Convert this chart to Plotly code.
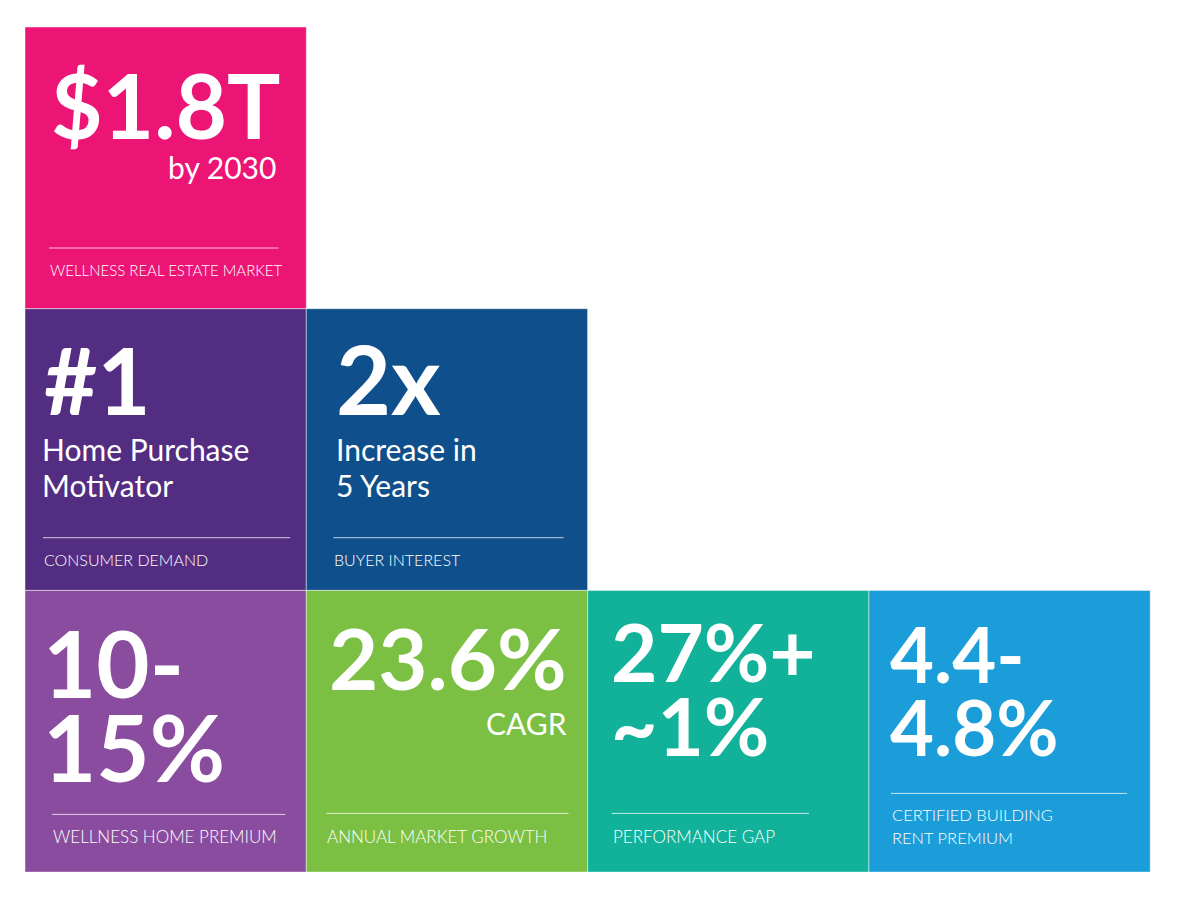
import plotly.graph_objects as go

# tiles of the infographic
tile_row = [0, 1, 1, 2, 2, 2, 2]
tile_col = [0, 0, 1, 0, 1, 2, 3]
tile_color = ["#EC1576", "#532D82", "#0F4F8B", "#8A4C9E", "#7BBF43", "#12B29A", "#1B9DD9"]
headlines = ["$1.8T", "#1", "2x", "10-\n15%", "23.6%", "27%+\n~1%", "4.4-\n4.8%"]
sublines = ["by 2030", "Home Purchase\nMotivator", "Increase in\n5 Years", "", "CAGR", "", ""]
labels = ["WELLNESS REAL ESTATE MARKET", "CONSUMER DEMAND", "BUYER INTEREST",
          "WELLNESS HOME PREMIUM", "ANNUAL MARKET GROWTH", "PERFORMANCE GAP",
          "CERTIFIED BUILDING\nRENT PREMIUM"]

# layout (pixels inside a tile); page body has an 8px margin
TW, TH = 281.3, 281.7
X0, Y0 = 17, 19
style = [
    dict(hx=24, hy=77, hs=89, gap=0, sx=-28, sy=140, sa="right", lx=(24, -28), ly=221, ty=243, ts=15),
    dict(hx=17, hy=71, hs=92, gap=0, sx=15, sy=140, sa="left", lx=(18, -16), ly=229, ty=251, ts=16),
    dict(hx=28, hy=69, hs=95, gap=0, sx=28, sy=140, sa="left", lx=(27, -24), ly=229, ty=251, ts=16),
    dict(hx=16, hy=72, hs=92, gap=84, sx=0, sy=0, sa="left", lx=(27, -21), ly=224, ty=246, ts=17),
    dict(hx=21, hy=67, hs=85, gap=0, sx=-19, sy=133, sa="right", lx=(20, -19), ly=223, ty=246, ts=17),
    dict(hx=21, hy=61, hs=80, gap=74, sx=0, sy=0, sa="left", lx=(24, -60), ly=223, ty=246, ts=17),
    dict(hx=19, hy=63, hs=76, gap=73, sx=0, sy=0, sa="left", lx=(22, -23), ly=203, ty=225, ts=16.5),
]

FONT = "Lato, 'Open Sans', sans-serif"

fig = go.Figure()
shapes = []
annotations = []


def px(col, dx):
    return col + dx / TW


def py(row, dy):
    return row + dy / TH


for i in range(len(tile_row)):
    r, c, s = tile_row[i], tile_col[i], style[i]
    shapes.append(dict(type="rect", xref="x", yref="y", x0=c, x1=c + 1, y0=r, y1=r + 1,
                       fillcolor=tile_color[i], line=dict(color="rgba(255,255,255,0.45)", width=1),
                       layer="below"))
    # divider line
    shapes.append(dict(type="line", xref="x", yref="y",
                       x0=px(c, s["lx"][0]), x1=px(c + 1, s["lx"][1]),
                       y0=py(r, s["ly"]), y1=py(r, s["ly"]),
                       line=dict(color="rgba(255,255,255,0.75)", width=1)))
    for k, line in enumerate(headlines[i].split("\n")):
        annotations.append(dict(x=px(c, s["hx"]), y=py(r, s["hy"] + k * s["gap"]),
                                xref="x", yref="y", text=line, showarrow=False,
                                xanchor="left", yanchor="middle",
                                font=dict(family=FONT, size=s["hs"], color="white", weight=700)))
    if sublines[i]:
        for k, line in enumerate(sublines[i].split("\n")):
            sx = px(c + 1, s["sx"]) if s["sa"] == "right" else px(c, s["sx"])
            annotations.append(dict(x=sx, y=py(r, s["sy"] + k * 36),
                                    xref="x", yref="y", text=line, showarrow=False,
                                    xanchor=s["sa"], yanchor="middle",
                                    font=dict(family=FONT, size=30, color="white")))
    for k, line in enumerate(labels[i].split("\n")):
        annotations.append(dict(x=px(c, s["lx"][0] - 1), y=py(r, s["ty"] + k * 23),
                                xref="x", yref="y", text=line, showarrow=False,
                                xanchor="left", yanchor="middle",
                                font=dict(family=FONT, size=s["ts"], color="white", weight=300)))

fig.update_layout(
    width=1181, height=900,
    margin=dict(l=0, r=0, t=0, b=0),
    paper_bgcolor="white", plot_bgcolor="white",
    shapes=shapes, annotations=annotations,
    showlegend=False,
    xaxis=dict(range=[-X0 / TW, (1181 - X0) / TW], visible=False, fixedrange=True),
    yaxis=dict(range=[(900 - Y0) / TH, -Y0 / TH], visible=False, fixedrange=True),
)

fig.write_html("out.html")
